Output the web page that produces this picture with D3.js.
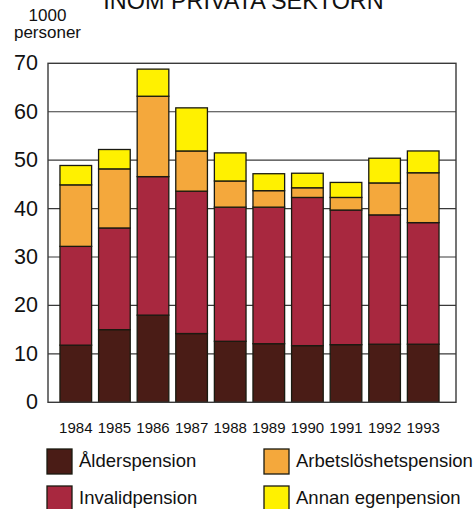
<!DOCTYPE html>
<html>
<head>
<meta charset="utf-8">
<script src="https://cdnjs.cloudflare.com/ajax/libs/d3/7.8.5/d3.min.js"></script>
<style>
  body { margin: 0; background: #fff; }
  svg { display: block; font-family: "Liberation Sans", Arial, Helvetica, sans-serif; }
</style>
</head>
<body>
<svg class="chart" width="476" height="509"></svg>
<script>
// data (1000 persons)
var years = ["1984", "1985", "1986", "1987", "1988", "1989", "1990", "1991", "1992", "1993"];
var alderspension = [11.8, 15.0, 18.0, 14.2, 12.6, 12.1, 11.7, 11.9, 12.0, 12.0];
var invalidpension = [20.4, 21.0, 28.6, 29.4, 27.7, 28.2, 30.6, 27.8, 26.7, 25.1];
var arbetsloshetspension = [12.7, 12.2, 16.6, 8.3, 5.4, 3.4, 2.0, 2.6, 6.6, 10.3];
var annanEgenpension = [4.0, 4.0, 5.6, 8.9, 5.8, 3.5, 3.0, 3.1, 5.1, 4.5];
var seriesNames = ["Ålderspension", "Invalidpension", "Arbetslöshetspension", "Annan egenpension"];
var yTicks = [0, 10, 20, 30, 40, 50, 60, 70];

var colors = ["#4a1c16", "#a8283f", "#f4a83c", "#fff100"];

var plot = {left: 48, right: 456, top: 63.3, bottom: 402.3};

var chart = d3.select(".chart");

var x = d3.scaleBand().domain(years).range([56.5, 442.5]).paddingInner(0.18).paddingOuter(0.09);
var y = d3.scaleLinear().domain([0, 70]).range([plot.bottom, plot.top]);

// title (cut off at top in the original)
chart.append("text")
  .attr("x", 243.5).attr("y", 9)
  .attr("text-anchor", "middle")
  .style("font-size", "23.4px")
  .attr("fill", "#111")
  .text("INOM PRIVATA SEKTORN");

// unit label
chart.append("text").attr("x", 47.5).attr("y", 21).attr("text-anchor", "middle")
  .style("font-size", "17px").attr("fill", "#111").text("1000");
chart.append("text").attr("x", 47.5).attr("y", 38).attr("text-anchor", "middle")
  .style("font-size", "17px").attr("fill", "#111").text("personer");

// gridlines
chart.append("g").selectAll("line")
  .data(yTicks.filter(function(d) { return d > 0 && d < 70; }))
  .enter().append("line")
  .attr("x1", plot.left).attr("x2", plot.right)
  .attr("y1", function(d) { return y(d); })
  .attr("y2", function(d) { return y(d); })
  .attr("stroke", "#3a3a3a").attr("stroke-width", 1.2);

// y axis labels
var yAxis = chart.append("g")
  .attr("transform", "translate(" + plot.left + ",0)")
  .call(d3.axisLeft(y).tickValues(yTicks).tickSize(0).tickPadding(10));
yAxis.select(".domain").remove();
yAxis.selectAll("text")
  .style("font-size", "21.5px")
  .attr("fill", "#111")
  .attr("font-family", null)
  .attr("dy", "0.3em");

// stacked bars
var table = years.map(function(yr, i) {
  return {year: yr, s0: alderspension[i], s1: invalidpension[i], s2: arbetsloshetspension[i], s3: annanEgenpension[i]};
});
var stack = d3.stack().keys(["s0", "s1", "s2", "s3"])(table);

chart.append("g").selectAll("g")
  .data(stack)
  .enter().append("g")
  .attr("fill", function(d, i) { return colors[i]; })
  .selectAll("rect")
  .data(function(d) { return d; })
  .enter().append("rect")
  .attr("x", function(d) { return x(d.data.year); })
  .attr("width", x.bandwidth())
  .attr("y", function(d) { return y(d[1]); })
  .attr("height", function(d) { return y(d[0]) - y(d[1]); })
  .attr("stroke", "#1a1a10")
  .attr("stroke-width", 1.3);

// frame
chart.append("rect")
  .attr("x", plot.left).attr("y", plot.top)
  .attr("width", plot.right - plot.left).attr("height", plot.bottom - plot.top)
  .attr("fill", "none").attr("stroke", "#3a3a3a").attr("stroke-width", 1.4);

// x axis labels
var xAxis = chart.append("g")
  .attr("transform", "translate(0,433)")
  .call(d3.axisBottom(x).tickSize(0));
xAxis.select(".domain").remove();
xAxis.selectAll("text")
  .attr("y", 0).attr("dy", 0)
  .attr("font-family", null)
  .style("font-size", "15px")
  .attr("fill", "#111");

// legend
var legendPos = [[47, 449], [47, 486], [264, 449], [264, 486]];
var legend = chart.append("g").selectAll("g")
  .data(seriesNames)
  .enter().append("g")
  .attr("transform", function(d, i) { return "translate(" + legendPos[i][0] + "," + legendPos[i][1] + ")"; });
legend.append("rect")
  .attr("width", 25).attr("height", 25)
  .attr("fill", function(d, i) { return colors[i]; })
  .attr("stroke", "#1a1a10").attr("stroke-width", 1.3);
legend.append("text")
  .attr("x", 32).attr("y", 18)
  .style("font-size", "18.5px")
  .attr("fill", "#111")
  .text(function(d) { return d; });
</script>
</body>
</html>
